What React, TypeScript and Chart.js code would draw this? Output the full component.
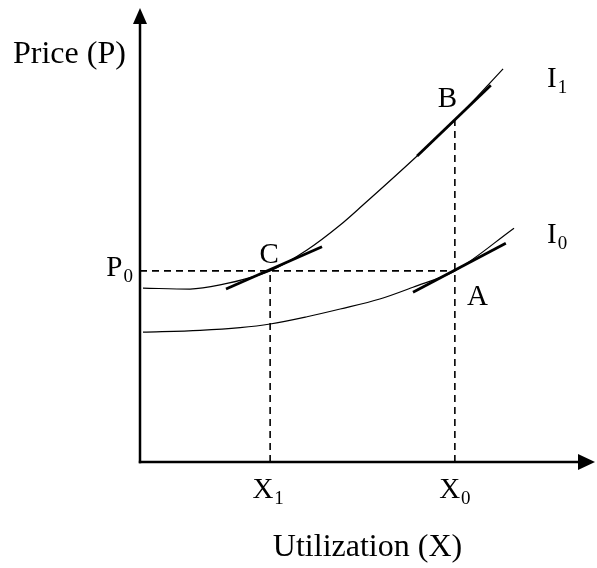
import React, { useEffect, useRef } from "react";
import { Chart, registerables } from "chart.js";

Chart.register(...registerables);

// Indifference curve I1 (upper)
const i1X = [0.66, 11.0, 17.6, 28.6, 36.7, 44.0, 49.0, 60.9, 69.2, 79.8];
const i1Y = [38.3, 38.1, 39.0, 42.1, 46.7, 52.2, 56.6, 67.4, 75.3, 86.6];

// Indifference curve I0 (lower)
const i0X = [0.66, 13.2, 22.0, 28.6, 36.7, 44.0, 52.7, 60.0, 69.2, 82.2];
const i0Y = [28.6, 29.0, 29.6, 30.4, 32.0, 33.7, 35.9, 38.5, 42.1, 51.5];

// Tangent segments at C, B, A
const tanCX = [18.9, 40.0];
const tanCY = [38.1, 47.4];
const tanBX = [60.9, 77.1];
const tanBY = [67.4, 83.0];
const tanAX = [60.0, 80.4];
const tanAY = [37.4, 48.2];

// Key levels
const X1 = 28.6;
const X0 = 69.2;
const P0 = 42.1;
const PB = 75.3;

// Texts
const yTitle = "Price (P)";
const xTitle = "Utilization (X)";
const xTickMain = ["X", "X"];
const xTickSub = ["1", "0"];
const yTickMain = "P";
const yTickSub = "0";
const curveMain = ["I", "I"];
const curveSub = ["1", "0"];
const pointNames = ["A", "B", "C"];

const zip = (xs: number[], ys: number[]) => xs.map((x, i) => ({ x, y: ys[i] }));

const MATH_FONT = '29px "Liberation Serif"';
const SUB_FONT = '19px "Liberation Serif"';
const TITLE_FONT = '32px "Liberation Serif"';

function drawSub(
  ctx: CanvasRenderingContext2D,
  main: string,
  sub: string,
  x: number,
  baseline: number,
  align: "left" | "center" | "right"
) {
  ctx.font = MATH_FONT;
  const wm = ctx.measureText(main).width;
  ctx.font = SUB_FONT;
  const ws = ctx.measureText(sub).width;
  const total = wm + 1 + ws;
  let left = x;
  if (align === "center") left = x - total / 2;
  if (align === "right") left = x - total;
  ctx.textAlign = "left";
  ctx.font = MATH_FONT;
  ctx.fillText(main, left, baseline);
  ctx.font = SUB_FONT;
  ctx.fillText(sub, left + wm + 1, baseline + 6);
}

const diagramPlugin = {
  id: "diagram",
  beforeDatasetsDraw(chart: any) {
    const { ctx } = chart;
    const xs = chart.scales.x;
    const ys = chart.scales.y;
    const ax = xs.getPixelForValue(0);
    const ay = ys.getPixelForValue(0);
    const xEnd = xs.getPixelForValue(100);
    const yEnd = ys.getPixelForValue(100);
    ctx.save();
    ctx.strokeStyle = "#000";
    ctx.fillStyle = "#000";
    ctx.lineWidth = 2.5;
    ctx.beginPath();
    ctx.moveTo(ax, ay + 1.2);
    ctx.lineTo(ax, yEnd + 14);
    ctx.stroke();
    ctx.beginPath();
    ctx.moveTo(ax - 1.2, ay);
    ctx.lineTo(xEnd - 14, ay);
    ctx.stroke();
    ctx.beginPath();
    ctx.moveTo(ax, yEnd);
    ctx.lineTo(ax - 7, yEnd + 16);
    ctx.lineTo(ax + 7, yEnd + 16);
    ctx.closePath();
    ctx.fill();
    ctx.beginPath();
    ctx.moveTo(xEnd, ay);
    ctx.lineTo(xEnd - 17, ay - 8);
    ctx.lineTo(xEnd - 17, ay + 8);
    ctx.closePath();
    ctx.fill();
    ctx.restore();
  },
  afterDatasetsDraw(chart: any) {
    const { ctx } = chart;
    const xs = chart.scales.x;
    const ys = chart.scales.y;
    const ax = xs.getPixelForValue(0);
    const ay = ys.getPixelForValue(0);
    const yEnd = ys.getPixelForValue(100);
    ctx.save();
    ctx.fillStyle = "#000";
    ctx.textBaseline = "alphabetic";

    ctx.font = TITLE_FONT;
    ctx.textAlign = "left";
    ctx.fillText(yTitle, ax - 127, yEnd + 55);
    ctx.textAlign = "center";
    ctx.fillText(xTitle, (xs.left + xs.right) / 2, ay + 94);

    const px1 = xs.getPixelForValue(X1);
    const px0 = xs.getPixelForValue(X0);
    const pp0 = ys.getPixelForValue(P0);
    const ppb = ys.getPixelForValue(PB);

    drawSub(ctx, xTickMain[0], xTickSub[0], px1 - 2, ay + 36, "center");
    drawSub(ctx, xTickMain[1], xTickSub[1], px0, ay + 36, "center");
    drawSub(ctx, yTickMain, yTickSub, ax - 7, pp0 + 5, "right");

    const e1x = xs.getPixelForValue(i1X[i1X.length - 1]);
    const e1y = ys.getPixelForValue(i1Y[i1Y.length - 1]);
    const e0x = xs.getPixelForValue(i0X[i0X.length - 1]);
    const e0y = ys.getPixelForValue(i0Y[i0Y.length - 1]);
    drawSub(ctx, curveMain[0], curveSub[0], e1x + 44, e1y + 18, "left");
    drawSub(ctx, curveMain[1], curveSub[1], e0x + 33, e0y + 15, "left");

    ctx.font = MATH_FONT;
    ctx.textAlign = "center";
    ctx.fillText(pointNames[0], px0 + 22.5, pp0 + 34);
    ctx.fillText(pointNames[1], px0 - 7.5, ppb - 13);
    ctx.fillText(pointNames[2], px1 - 1, pp0 - 8);
    ctx.restore();
  },
};

export default function App() {
  const ref = useRef<HTMLCanvasElement | null>(null);

  useEffect(() => {
    if (!ref.current) return;
    const curve = (xs: number[], ys: number[]) => ({
      data: zip(xs, ys),
      showLine: true,
      pointRadius: 0,
      borderColor: "#000",
      borderWidth: 1.2,
      cubicInterpolationMode: "monotone" as const,
      tension: 0.4,
      clip: false as any,
    });
    const seg = (xs: number[], ys: number[], width: number, dash: number[]) => ({
      data: zip(xs, ys),
      showLine: true,
      pointRadius: 0,
      borderColor: "#000",
      borderWidth: width,
      borderDash: dash,
      borderCapStyle: "butt" as const,
      clip: false as any,
    });
    const chart = new Chart(ref.current, {
      type: "scatter",
      data: {
        datasets: [
          seg([0, X0], [P0, P0], 1.6, [7, 5]),
          seg([X1, X1], [0, P0], 1.6, [7, 5]),
          seg([X0, X0], [0, PB], 1.6, [7, 5]),
          curve(i1X, i1Y),
          curve(i0X, i0Y),
          seg(tanCX, tanCY, 2.8, []),
          seg(tanBX, tanBY, 2.8, []),
          seg(tanAX, tanAY, 2.8, []),
        ] as any,
      },
      options: {
        animation: false,
        responsive: false,
        events: [],
        layout: { padding: { left: 140, right: 2, top: 8, bottom: 106 } },
        scales: {
          x: { type: "linear", min: 0, max: 100, display: false },
          y: { type: "linear", min: 0, max: 100, display: false },
        },
        plugins: {
          legend: { display: false },
          tooltip: { enabled: false },
        },
      },
      plugins: [diagramPlugin],
    });
    return () => chart.destroy();
  }, []);

  return (
    <div style={{ position: "absolute", left: 0, top: 0, width: 597, height: 568, background: "#fff" }}>
      <canvas ref={ref} width={597} height={568} style={{ width: 597, height: 568, display: "block" }} />
    </div>
  );
}
